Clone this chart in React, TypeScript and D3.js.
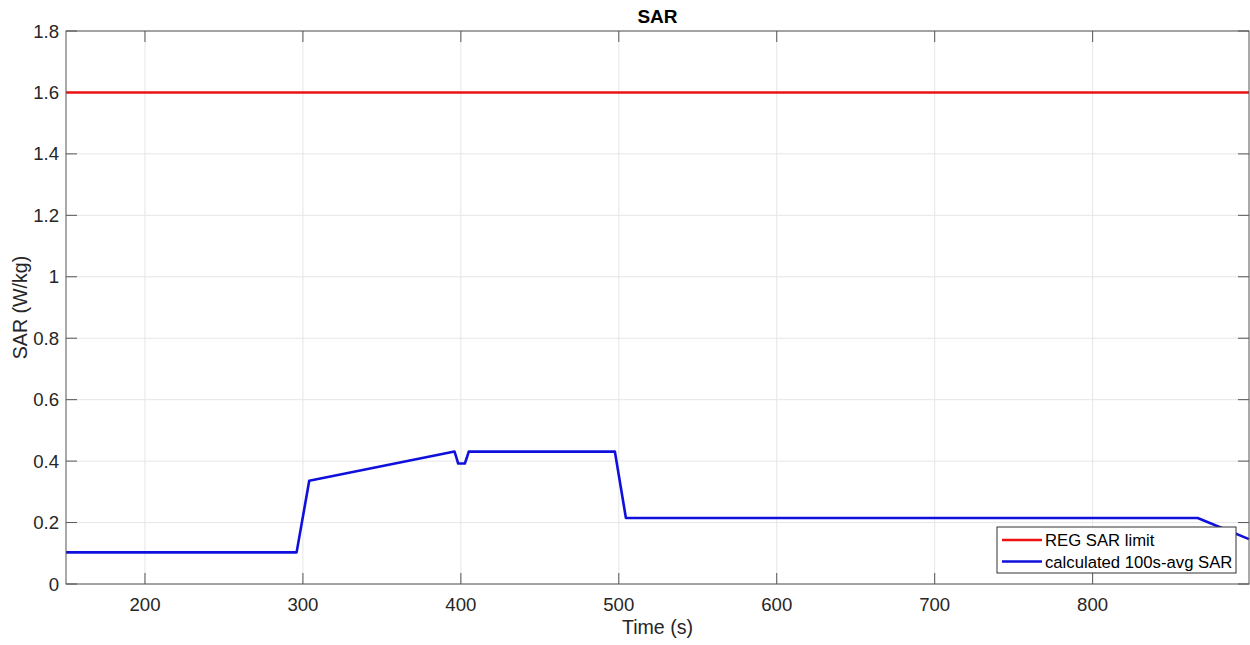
import React from "react";
import * as d3 from "d3";

const xTicks = [200, 300, 400, 500, 600, 700, 800];
const yTicks = [0, 0.2, 0.4, 0.6, 0.8, 1, 1.2, 1.4, 1.6, 1.8];
const limitTime = [150, 899];
const limitSAR = [1.6, 1.6];
const avgTime = [150, 296, 304, 396, 397.3, 398.3, 402.5, 403.7, 405, 497.5, 504.5, 866.5, 899];
const avgSAR = [0.103, 0.103, 0.336, 0.431, 0.41, 0.392, 0.392, 0.41, 0.431, 0.431, 0.215, 0.215, 0.146];
const legendLabels = ["REG SAR limit", "calculated 100s-avg SAR"];

export default function App() {
  const W = 1250, H = 645;
  const left = 66, right = 1249, top = 31, bottom = 584;
  const x = d3.scaleLinear().domain([150, 899]).range([left, right]);
  const y = d3.scaleLinear().domain([0, 1.8]).range([bottom, top]);
  const line = d3.line<[number, number]>().x(d => x(d[0])).y(d => y(d[1]));
  const redPts = limitTime.map((t, i) => [t, limitSAR[i]] as [number, number]);
  const bluePts = avgTime.map((t, i) => [t, avgSAR[i]] as [number, number]);
  const font = "'Liberation Sans', Arial, sans-serif";
  const tickLen = 11;
  const axisColor = "#555";
  const textColor = "#262626";
  const lx0 = 997, ly0 = 527, lw = 239, lh = 46;
  return (
    <svg width={W} height={H} style={{ position: "absolute", left: 0, top: 0, background: "#fff" }} fontFamily={font}>
      <rect x={0} y={0} width={W} height={H} fill="#fff" />
      {xTicks.map(t => (
        <line key={"gx" + t} x1={x(t)} x2={x(t)} y1={top} y2={bottom} stroke="#e6e6e6" strokeWidth={1} />
      ))}
      {yTicks.map(t => (
        <line key={"gy" + t} x1={left} x2={right} y1={y(t)} y2={y(t)} stroke="#e6e6e6" strokeWidth={1} />
      ))}
      {xTicks.map(t => (
        <g key={"tx" + t}>
          <line x1={x(t)} x2={x(t)} y1={bottom} y2={bottom - tickLen} stroke={axisColor} />
          <line x1={x(t)} x2={x(t)} y1={top} y2={top + tickLen} stroke={axisColor} />
          <text x={x(t)} y={611} textAnchor="middle" fontSize={18.6} fill={textColor}>{t}</text>
        </g>
      ))}
      {yTicks.map(t => (
        <g key={"ty" + t}>
          <line x1={left} x2={left + tickLen} y1={y(t)} y2={y(t)} stroke={axisColor} />
          <line x1={right} x2={right - tickLen} y1={y(t)} y2={y(t)} stroke={axisColor} />
          <text x={59} y={y(t) + 6.6} textAnchor="end" fontSize={18.6} fill={textColor}>{d3.format("~g")(t)}</text>
        </g>
      ))}
      <path d={line(redPts) || ""} fill="none" stroke="#ee1111" strokeWidth={2.6} />
      <path d={line(bluePts) || ""} fill="none" stroke="#1010dd" strokeWidth={2.6} strokeLinejoin="round" />
      <rect x={left} y={top} width={right - left} height={bottom - top} fill="none" stroke={axisColor} strokeWidth={1} />
      <text x={(left + right) / 2} y={22.5} textAnchor="middle" fontSize={19} fontWeight="bold" fill="#000">SAR</text>
      <text x={(left + right) / 2} y={634} textAnchor="middle" fontSize={19.6} fill={textColor}>Time (s)</text>
      <text transform={`translate(27,${(top + bottom) / 2}) rotate(-90)`} textAnchor="middle" fontSize={19.6} fill={textColor}>SAR (W/kg)</text>
      <rect x={lx0} y={ly0} width={lw} height={lh} fill="#fff" stroke="#333" strokeWidth={1} />
      {legendLabels.map((lab, i) => (
        <g key={lab}>
          <line x1={1002} x2={1042} y1={540 + i * 21.5} y2={540 + i * 21.5} stroke={i === 0 ? "#ee1111" : "#1010dd"} strokeWidth={2.6} />
          <text x={1045} y={546 + i * 21.5} fontSize={16.7} fill="#000">{lab}</text>
        </g>
      ))}
    </svg>
  );
}
